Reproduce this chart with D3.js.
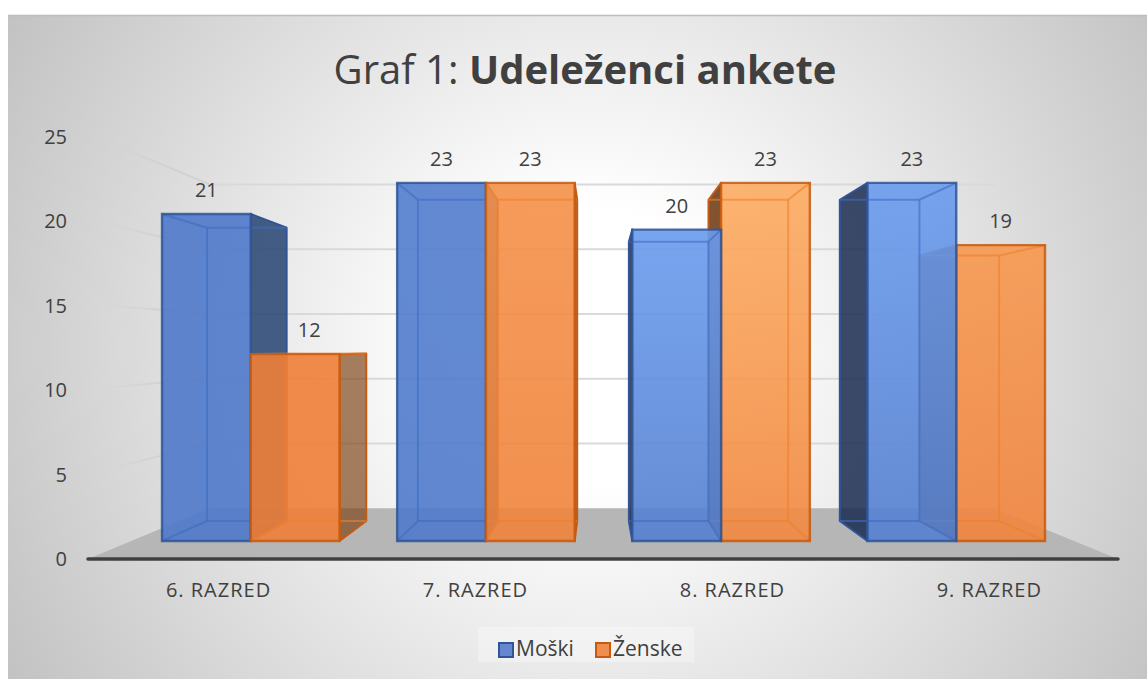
<!DOCTYPE html>
<html>
<head>
<meta charset="utf-8">
<script src="https://cdnjs.cloudflare.com/ajax/libs/d3/7.8.5/d3.min.js"></script>
<style>
html,body{margin:0;padding:0;background:#fff;overflow:hidden}
svg{display:block}
text{font-family:"Open Sans",sans-serif;fill:#404040}
</style>
</head>
<body>
<svg id="chart" width="1147" height="679"></svg>
<script>
// ---- data ----
const categories = ["6. RAZRED", "7. RAZRED", "8. RAZRED", "9. RAZRED"];
const seriesNames = ["Moški", "Ženske"];
const moski = [21, 23, 20, 23];
const zenske = [12, 23, 23, 19];
const yTicks = [0, 5, 10, 15, 20, 25];
const titlePlain = "Graf 1: ";
const titleBold = "Udeleženci ankete";

// ---- scales and perspective ----
const W = 1147, H = 679;
const svg = d3.select("#chart");
const defs = svg.append("defs");
const x0 = d3.scaleBand().domain(categories).range([162, 1045]).paddingInner(0.245).paddingOuter(0);
const x1 = d3.scaleBand().domain(seriesNames).range([0, x0.bandwidth()]);
const y = d3.scaleLinear().domain([0, 25]).range([541, 541 - 25 * 15.57]);
const axisY = d3.scaleLinear().domain([0, 25]).range([559, 137]);
const VP = [599, 346.6];
const BAR_DEPTH = 0.897, WALL_DEPTH = 0.832, FLOOR_NEAR = 1.0926;
const proj = (px, py, k) => [VP[0] + (px - VP[0]) * k, VP[1] + (py - VP[1]) * k];

// ---- background ----
const bg = defs.append("radialGradient").attr("id", "bg").attr("gradientUnits", "userSpaceOnUse")
  .attr("cx", 590).attr("cy", 347).attr("r", 690);
bg.append("stop").attr("offset", 0.2).attr("stop-color", "#ffffff");
bg.append("stop").attr("offset", 1).attr("stop-color", "#c0c0c0");
svg.append("rect").attr("x", 8).attr("y", 15).attr("width", W - 8).attr("height", H - 15).attr("fill", "url(#bg)");
svg.append("line").attr("x1", 8).attr("x2", W).attr("y1", 15.5).attr("y2", 15.5).attr("stroke", "#bdbdbd").attr("stroke-width", 1.5);

// ---- floor ----
const leftWall = VP[0] - 511 / FLOOR_NEAR, rightWall = VP[0] + 519 / FLOOR_NEAR;
const floorPts = [
  proj(leftWall, y(0), FLOOR_NEAR), proj(rightWall, y(0), FLOOR_NEAR),
  proj(rightWall, y(0), WALL_DEPTH), proj(leftWall, y(0), WALL_DEPTH)
];
svg.append("polygon").attr("points", floorPts.join(" ")).attr("fill", "#b6b6b6");

// ---- gridlines (back wall, then fading left wall) ----
const grid = svg.append("g").attr("stroke", "#d9d9d9").attr("stroke-width", 2).attr("fill", "none");
yTicks.filter(t => t > 0).forEach((t, i) => {
  const a = proj(leftWall, y(t), WALL_DEPTH), b = proj(rightWall, y(t), WALL_DEPTH);
  grid.append("line").attr("x1", a[0]).attr("y1", a[1]).attr("x2", b[0]).attr("y2", b[1]);
  const s = proj(leftWall, y(t), 1.06);
  const id = "fade" + i;
  const g = defs.append("linearGradient").attr("id", id).attr("gradientUnits", "userSpaceOnUse")
    .attr("x1", s[0]).attr("y1", s[1]).attr("x2", a[0]).attr("y2", a[1]);
  g.append("stop").attr("offset", 0).attr("stop-color", "#d0d0d0").attr("stop-opacity", 0);
  g.append("stop").attr("offset", 0.5).attr("stop-color", "#d2d2d2").attr("stop-opacity", 1);
  grid.append("line").attr("x1", s[0]).attr("y1", s[1]).attr("x2", a[0]).attr("y2", a[1]).attr("stroke", `url(#${id})`);
});

// ---- bars ----
const palette = {
  "Moški":  {base: "#4e79c9", lit: "#6a9bee", edge: "#2f5597", inner: "#3d6cc0", side: "#22406f", sideDark: "#15284c"},
  "Ženske": {base: "#ef7f38", lit: "#fdac62", edge: "#c55a11", inner: "#f07f2c", side: "#7b3f10", sideDark: "#6a3208"}
};
const litShare = (c, s) => {
  const i = categories.indexOf(c), female = s === "Ženske";
  if (i === 0) return 0;
  if (i === 1) return female ? 0.4 : 0.15;
  return female && i === 3 ? 0.55 : 1;
};
const bars = [];
categories.forEach((c, i) => {
  seriesNames.forEach((s, j) => {
    bars.push({cat: c, series: s, value: (j === 0 ? moski : zenske)[i],
               x: x0(c) + x1(s), w: x1.bandwidth(), idx: i});
  });
});
bars.forEach(b => { b.dist = Math.abs(b.x + b.w / 2 - VP[0]); });
const order = bars.slice().sort((a, b) => b.dist - a.dist);

const gBars = svg.append("g");
order.forEach((b, n) => {
  const p = palette[b.series];
  const L = b.x, R = b.x + b.w, T = y(b.value), B = y(0);
  const f = {tl: [L, T], tr: [R, T], br: [R, B], bl: [L, B]};
  const k = {tl: proj(L, T, BAR_DEPTH), tr: proj(R, T, BAR_DEPTH), br: proj(R, B, BAR_DEPTH), bl: proj(L, B, BAR_DEPTH)};
  const leftOfVP = (L + R) / 2 < VP[0];
  const g = gBars.append("g");

  // face visible from outside, darker
  const outer = leftOfVP ? [f.tr, k.tr, k.br, f.br] : [f.tl, k.tl, k.bl, f.bl];
  g.append("polygon").attr("points", outer.join(" "))
    .attr("fill", leftOfVP ? p.side : p.sideDark)
    .attr("fill-opacity", b.series === "Ženske" && leftOfVP ? 0.66 : 0.84)
    .attr("stroke", p.edge).attr("stroke-width", 2).attr("stroke-linejoin", "round");

  // front face, translucent
  const gid = "front" + n, share = litShare(b.cat, b.series);
  const lg = defs.append("linearGradient").attr("id", gid).attr("x1", 0).attr("y1", 0).attr("x2", 0).attr("y2", 1);
  lg.append("stop").attr("offset", 0).attr("stop-color", d3.interpolateRgb(p.base, p.lit)(share));
  lg.append("stop").attr("offset", 1).attr("stop-color", d3.interpolateRgb(p.base, p.lit)(share * 0.2));
  g.append("polygon").attr("points", [f.tl, f.tr, f.br, f.bl].join(" "))
    .attr("fill", `url(#${gid})`).attr("fill-opacity", 0.9);

  // inner edges seen through the bar
  const inner = g.append("g").attr("fill", "none").attr("stroke", p.inner).attr("stroke-opacity", 0.6).attr("stroke-width", 2);
  const edge = (a, c) => inner.append("line").attr("x1", a[0]).attr("y1", a[1]).attr("x2", c[0]).attr("y2", c[1]);
  edge(k.tl, k.tr); edge(k.bl, k.br);
  edge(leftOfVP ? k.tl : k.tr, leftOfVP ? k.bl : k.br);
  edge(leftOfVP ? f.tl : f.tr, leftOfVP ? k.tl : k.tr);
  edge(leftOfVP ? f.bl : f.br, leftOfVP ? k.bl : k.br);

  // front outline
  g.append("polygon").attr("points", [f.tl, f.tr, f.br, f.bl].join(" "))
    .attr("fill", "none").attr("stroke", p.edge).attr("stroke-width", 2.4).attr("stroke-opacity", 0.85);
});

// ---- value labels ----
const labelNudge = b => (b.cat === categories[0] && b.series === seriesNames[1]) ? 14 : 0;
svg.append("g").selectAll("text").data(bars).join("text")
  .attr("x", b => b.x + b.w / 2 + labelNudge(b))
  .attr("y", b => y(b.value) - 24)
  .attr("dy", "0.35em").attr("text-anchor", "middle").attr("font-size", 20)
  .text(b => b.value);

// ---- floor front line ----
const f0 = floorPts[0], f1 = floorPts[1];
svg.append("line").attr("x1", f0[0]).attr("y1", f0[1]).attr("x2", f1[0]).attr("y2", f1[1])
  .attr("stroke", "#404040").attr("stroke-width", 3.5).attr("stroke-linecap", "round");

// ---- y axis ----
const yAxis = svg.append("g").attr("transform", "translate(67,0)")
  .call(d3.axisLeft(axisY).tickValues(yTicks).tickSize(0).tickPadding(0));
yAxis.select(".domain").remove();
yAxis.selectAll("text").attr("font-size", 20).attr("font-family", '"Open Sans",sans-serif').attr("fill", "#404040");

// ---- category labels ----
svg.append("g").selectAll("text").data(categories).join("text")
  .attr("x", c => proj(x0(c) + x0.bandwidth() / 2, y(0), FLOOR_NEAR)[0])
  .attr("y", 590).attr("dy", "0.35em").attr("text-anchor", "middle").attr("font-size", 20)
  .attr("letter-spacing", 1)
  .text(c => c);

// ---- title ----
const title = svg.append("text").attr("x", 585).attr("y", 70).attr("dy", "0.35em")
  .attr("text-anchor", "middle").attr("font-size", 40);
title.append("tspan").text(titlePlain);
title.append("tspan").attr("font-weight", 700).text(titleBold);

// ---- legend ----
const legend = svg.append("g");
legend.append("rect").attr("x", 478).attr("y", 627).attr("width", 216).attr("height", 35)
  .attr("fill", "#ffffff").attr("fill-opacity", 0.3);
const legendX = d3.scaleOrdinal().domain(seriesNames).range([499, 596]);
seriesNames.forEach(s => {
  const p = palette[s];
  legend.append("rect").attr("x", legendX(s)).attr("y", 643).attr("width", 14).attr("height", 14)
    .attr("fill", p.base).attr("fill-opacity", 0.88).attr("stroke", p.edge).attr("stroke-width", 2);
  legend.append("text").attr("x", legendX(s) + 17).attr("y", 649).attr("dy", "0.35em")
    .attr("font-size", 21).text(s);
});
</script>
</body>
</html>
